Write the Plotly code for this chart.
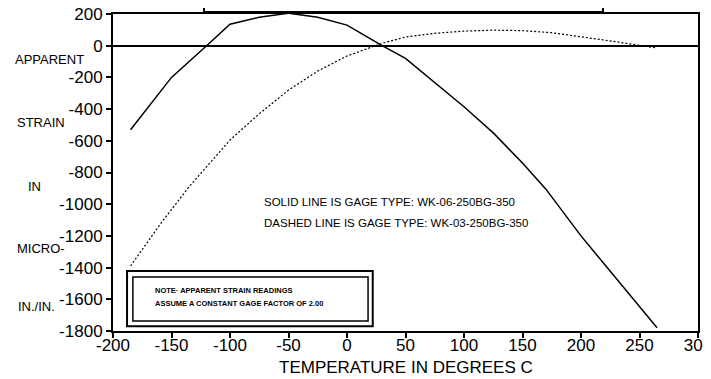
import plotly.graph_objects as go

# Solid line: gage type WK-06-250BG-350
solid_temp = [-185, -150, -120, -100, -75, -50, -25, 0, 30, 50, 100, 125, 150, 170, 200, 230, 265]
solid_strain = [-530, -200, 0, 135, 180, 205, 180, 130, 0, -80, -385, -550, -740, -905, -1200, -1470, -1780]

# Dashed line: gage type WK-03-250BG-350
dash_temp = [-185, -160, -135, -100, -75, -50, -25, 0, 30, 50, 75, 100, 125, 150, 175, 200, 230, 265]
dash_strain = [-1390, -1130, -890, -595, -430, -280, -160, -65, 15, 55, 78, 92, 98, 95, 82, 58, 25, -15]

x_ticks = [-200, -150, -100, -50, 0, 50, 100, 150, 200, 250, 300]
y_ticks = [200, 0, -200, -400, -600, -800, -1000, -1200, -1400, -1600, -1800]

x_title = "TEMPERATURE IN DEGREES C"
y_words = ["APPARENT", "STRAIN", "IN", "MICRO-", "IN./IN."]
y_word_pos = [(-0.171, 0.855), (-0.1675, 0.657), (-0.1487, 0.456), (-0.1675, 0.261), (-0.1658, 0.0786)]

legend_lines = ["SOLID LINE IS GAGE TYPE: WK-06-250BG-350",
                "DASHED LINE IS GAGE TYPE: WK-03-250BG-350"]
note_lines = ["NOTE· APPARENT STRAIN READINGS",
              "ASSUME A CONSTANT GAGE FACTOR OF 2.00"]

FONT = "Liberation Sans, Arial, Helvetica, sans-serif"

fig = go.Figure()
fig.add_trace(go.Scatter(x=solid_temp, y=solid_strain, mode="lines",
                         line=dict(color="black", width=1.5), showlegend=False))
fig.add_trace(go.Scatter(x=dash_temp, y=dash_strain, mode="lines",
                         line=dict(color="black", width=1.2, dash="2px,2px"), showlegend=False))

annotations = []
for w, (px, py) in zip(y_words, y_word_pos):
    annotations.append(dict(text=w, x=px, y=py, xref="paper", yref="paper",
                            xanchor="left", yanchor="middle", showarrow=False,
                            font=dict(family=FONT, size=13, color="black")))
for t, py in zip(legend_lines, [0.4057, 0.3396]):
    annotations.append(dict(text=t, x=0.2547, y=py, xref="paper", yref="paper",
                            xanchor="left", yanchor="middle", showarrow=False,
                            font=dict(family=FONT, size=11.5, color="black")))
for t, py in zip(note_lines, [0.129, 0.088]):
    annotations.append(dict(text="<b>" + t + "</b>", x=0.0684, y=py, xref="paper", yref="paper",
                            xanchor="left", yanchor="middle", showarrow=False,
                            font=dict(family=FONT, size=7.5, color="black")))
annotations.append(dict(text=x_title, x=0.5, y=-0.1136, xref="paper", yref="paper",
                        xanchor="center", yanchor="middle", showarrow=False,
                        font=dict(family=FONT, size=17, color="black")))

shapes = [
    dict(type="rect", xref="paper", yref="paper", x0=0.024, x1=0.444, y0=0.0147, y1=0.189,
         line=dict(color="black", width=2), fillcolor="white", layer="below"),
    dict(type="rect", xref="paper", yref="paper", x0=0.034, x1=0.436, y0=0.0315, y1=0.170,
         line=dict(color="black", width=1.5)),
    dict(type="rect", xref="paper", yref="paper", x0=0.1556, x1=0.8376, y0=1.006, y1=1.2,
         line=dict(color="black", width=2)),
]

# the page body has an 8px default margin; size the figure to fill the 711x379 window
fig.update_layout(
    width=703, height=371,
    margin=dict(l=105, r=13, t=6, b=48, autoexpand=False),
    paper_bgcolor="white", plot_bgcolor="white",
    font=dict(family=FONT, color="black"),
    annotations=annotations, shapes=shapes,
    xaxis=dict(range=[-200, 300], tickvals=x_ticks, ticktext=[str(v) for v in x_ticks],
               automargin=False, ticklabeloverflow="allow",
               showgrid=False, zeroline=False, showline=True, linecolor="black", linewidth=2,
               mirror=True, ticks="outside", ticklen=5, tickwidth=1.5, tickcolor="black",
               ticklabelstandoff=-7,
               tickfont=dict(family=FONT, size=17, color="black")),
    yaxis=dict(range=[-1800, 200], tickvals=y_ticks, ticktext=[str(v) for v in y_ticks],
               automargin=False, ticklabeloverflow="allow",
               showgrid=False, zeroline=True, zerolinecolor="black", zerolinewidth=2,
               showline=True, linecolor="black", linewidth=2, mirror=True,
               ticks="outside", ticklen=5, tickwidth=1.5, tickcolor="black",
               tickfont=dict(family=FONT, size=17, color="black")),
)

fig.write_html("out.html")
